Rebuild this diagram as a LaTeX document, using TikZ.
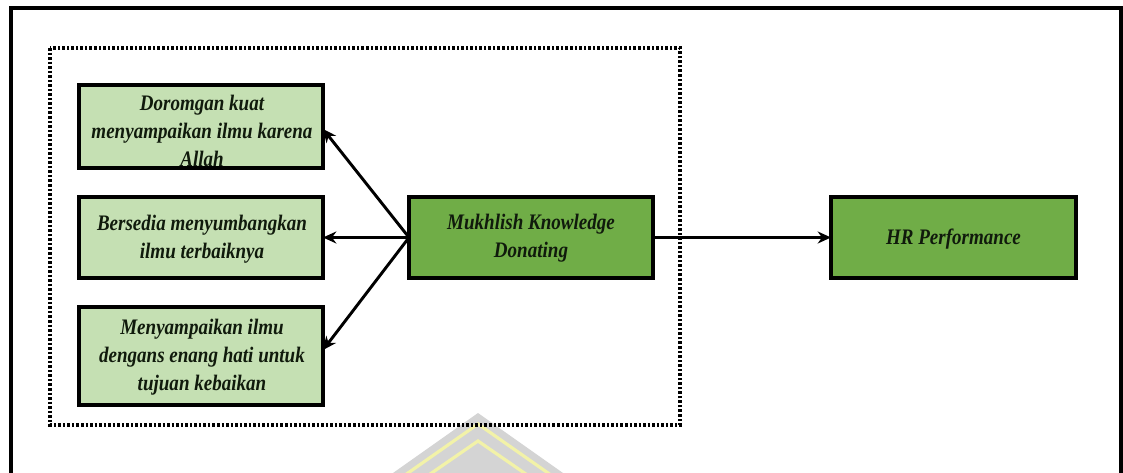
\documentclass[tikz,border=0pt]{standalone}
\usepackage{fontspec}
\setmainfont{Liberation Serif}[FakeStretch=0.86]
\usetikzlibrary{arrows.meta}
\definecolor{lightgreen}{HTML}{C5E0B3}
\definecolor{darkgreen}{HTML}{70AD47}
\definecolor{inkdark}{HTML}{101A0C}
\definecolor{markgray}{HTML}{D4D4D4}
\definecolor{markyellow}{HTML}{F2F2A8}
\begin{document}
\begin{tikzpicture}[x=0.75pt,y=-0.75pt,
  boxbase/.style={draw=black, line width=3.4pt, minimum width=183pt, inner sep=0pt, outer sep=0pt},
  litebox/.style={boxbase, fill=lightgreen},
  darkbox/.style={boxbase, fill=darkgreen},
  boxtext/.style={align=center, inner sep=0pt, text=inkdark,
    font=\fontsize{16.6}{21}\selectfont\bfseries\itshape},
  arr/.style={line width=2.2pt, -{Stealth[length=10pt,width=9pt]}},
  dotted frame/.style={line width=2.3pt, dash pattern=on 1.9pt off 1.5pt}]
\useasboundingbox (0,0) rectangle (1123,473);

% faint emblem behind the diagram
\begin{scope}
  \clip (0,0) rectangle (1123,473);
  \fill[markgray] (478,413) -- (478-170,533) -- (478+170,533) -- cycle;
  \draw[markyellow, line width=2.4pt] (478-120,508) -- (478,424) -- (478+120,508);
  \draw[markyellow, line width=2.4pt] (478-100,510) -- (478,441) -- (478+100,510);
\end{scope}

% outer frame, open at the bottom
\begin{scope}
  \clip (0,0) rectangle (1123,473);
  \draw[line width=3.4pt] (11,600) -- (11,8) -- (1121,8) -- (1121,600);
\end{scope}

% dotted grouping frame
\draw[dotted frame] (50,48) rectangle (680,425);

% indicator boxes
\node[litebox, minimum height=62.25pt] (b1) at (201,126.5) {};
\node[litebox, minimum height=60.75pt] (b2) at (201,237.5) {};
\node[litebox, minimum height=73.5pt]  (b3) at (201,356) {};
\node[boxtext] (t1) at (202,131) {Doromgan kuat\\menyampaikan ilmu karena\\Allah};
\node[boxtext] (t2) at (202,239) {Bersedia menyumbangkan\\ilmu terbaiknya};
\node[boxtext] (t3) at (202,357) {Menyampaikan ilmu\\dengans enang hati untuk\\tujuan kebaikan};

% construct and outcome boxes
\node[darkbox, minimum height=60.75pt] (m) at (531,237.5) {};
\node[boxtext] (mt) at (531,238.5) {Mukhlish Knowledge\\Donating};
\node[darkbox, minimum width=183.75pt, minimum height=60.75pt] (hr) at (953.5,237.5) {};
\node[boxtext] (hrt) at (953.5,239) {HR Performance};

% connectors
\draw[arr] (m.west) -- (b1.east |- 0,129);
\draw[arr] (m.west) -- (b2.east);
\draw[arr] (m.west) -- (b3.east |- 0,350);
\draw[arr] (m.east) -- (hr.west);
\end{tikzpicture}
\end{document}
